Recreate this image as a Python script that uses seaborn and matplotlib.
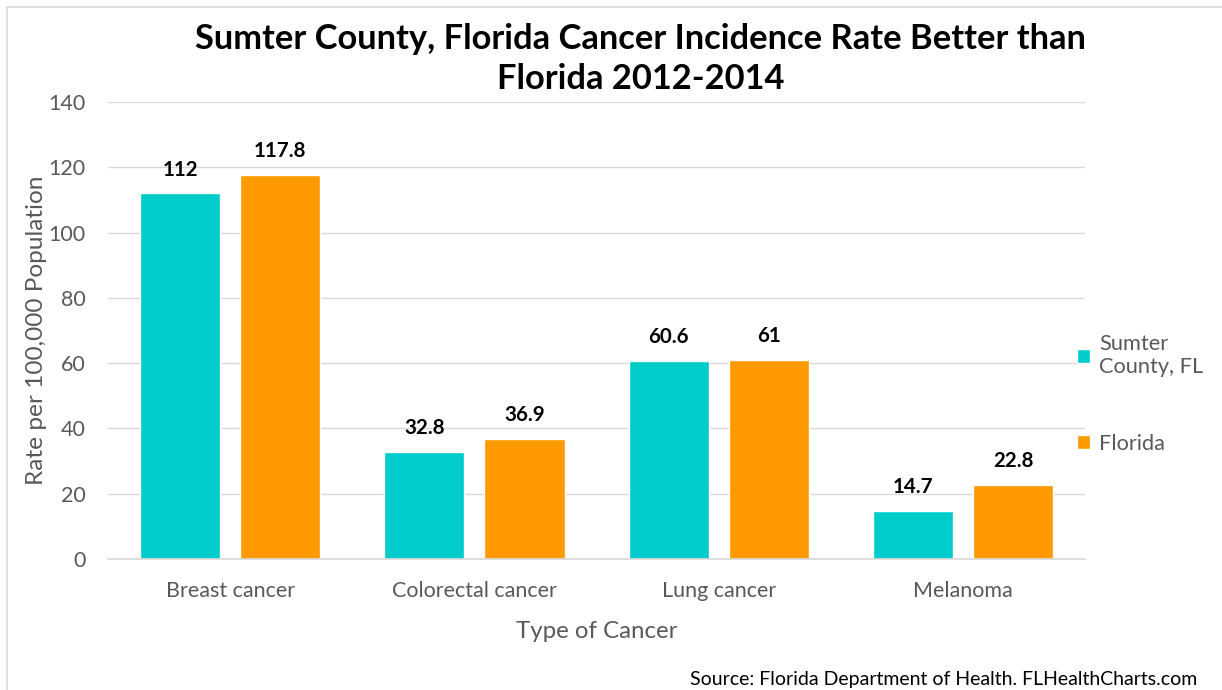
import matplotlib
matplotlib.use("Agg")
import matplotlib.pyplot as plt
import pandas as pd
import seaborn as sns
from matplotlib.patches import Rectangle

categories = ["Breast cancer", "Colorectal cancer", "Lung cancer", "Melanoma"]
sumter_values = [112, 32.8, 60.6, 14.7]
florida_values = [117.8, 36.9, 61, 22.8]
series_names = ["Sumter\nCounty, FL", "Florida"]
label_texts = [["112", "32.8", "60.6", "14.7"], ["117.8", "36.9", "61", "22.8"]]
y_ticks = [0, 20, 40, 60, 80, 100, 120, 140]

df = pd.DataFrame({
    "cancer": categories * 2,
    "rate": sumter_values + florida_values,
    "area": [series_names[0]] * 4 + [series_names[1]] * 4,
})

sns.set_theme(style="white")
plt.rcParams["font.family"] = ["Lato", "DejaVu Sans"]

fig = plt.figure(figsize=(12.22, 6.9), dpi=100)
ax = fig.add_axes([0.0884, 0.19, 0.7996, 0.662])

sns.barplot(
    data=df,
    x="cancer",
    y="rate",
    hue="area",
    palette=["#00CCCC", "#FF9900"],
    width=0.82,
    gap=0.2,
    saturation=1,
    ax=ax,
)

#
# Data labels
#
for container, texts in zip(ax.containers, label_texts):
    ax.bar_label(container, labels=texts, padding=10, fontsize=14.8,
                 fontweight="bold", color="black")

ax.set_ylim(0, 140)
ax.set_xlim(-0.5, 3.5)
ax.set_yticks(y_ticks)
ax.yaxis.grid(True, color="#d9d9d9", linewidth=1)
ax.set_axisbelow(True)
for side in ["top", "right", "left"]:
    ax.spines[side].set_visible(False)
ax.spines["bottom"].set_color("#d9d9d9")
ax.tick_params(axis="both", length=0, labelsize=15.5, colors="#595959")
ax.tick_params(axis="y", pad=16)
ax.tick_params(axis="x", pad=16)

ax.set_xlabel("Type of Cancer", fontsize=17.3, color="#595959", labelpad=14)
ax.set_ylabel("Rate per 100,000 Population", fontsize=17.6, color="#595959", labelpad=1)

fig.text(0.524, 0.915,
         "Sumter County, Florida Cancer Incidence Rate Better than\nFlorida 2012-2014",
         ha="center", va="center", fontsize=24.8, fontweight="bold",
         color="black", linespacing=1.3)

leg = ax.legend(
    loc="center left",
    bbox_to_anchor=(0.972, 0.361),
    frameon=False,
    fontsize=15.7,
    labelcolor="#595959",
    handlelength=0.6,
    handleheight=0.6,
    handletextpad=0.4,
    labelspacing=2.6,
)

fig.text(0.980, 0.003, "Source: Florida Department of Health. FLHealthCharts.com",
         ha="right", va="bottom", fontsize=14, color="black")

# chart border
fig.patches.append(Rectangle(
    (7 / 1222, -0.1), 1.2, 1.1 - 7 / 690,
    transform=fig.transFigure, fill=False, edgecolor="#d9d9d9", linewidth=1.2,
))

plt.savefig("out.png", dpi=100)
plt.close()
